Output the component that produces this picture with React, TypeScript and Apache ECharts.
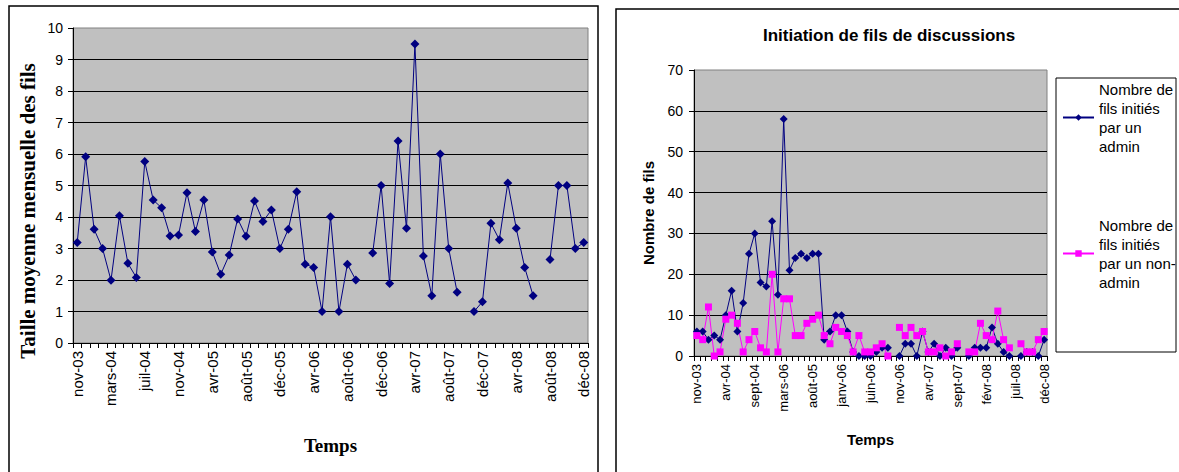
import { useEffect, useRef } from "react";
import * as echarts from "echarts";

// monthly categories, one month (janv-05) is absent from the source data
const MONTHS = [
  "nov-03", "déc-03",
  "janv-04", "févr-04", "mars-04", "avr-04", "mai-04", "juin-04", "juil-04", "août-04", "sept-04", "oct-04", "nov-04", "déc-04",
  "févr-05", "mars-05", "avr-05", "mai-05", "juin-05", "juil-05", "août-05", "sept-05", "oct-05", "nov-05", "déc-05",
  "janv-06", "févr-06", "mars-06", "avr-06", "mai-06", "juin-06", "juil-06", "août-06", "sept-06", "oct-06", "nov-06", "déc-06",
  "janv-07", "févr-07", "mars-07", "avr-07", "mai-07", "juin-07", "juil-07", "août-07", "sept-07", "oct-07", "nov-07", "déc-07",
  "janv-08", "févr-08", "mars-08", "avr-08", "mai-08", "juin-08", "juil-08", "août-08", "sept-08", "oct-08", "nov-08", "déc-08",
];
// the second chart labels mars-05 as "mars-06", kept as printed
const RIGHT_MONTHS = MONTHS.map((m, i) => (i === 15 ? "mars-06" : m));

const AVG_SIZE = [
  3.19, 5.91, 3.61, 3.0, 1.99, 4.04, 2.53, 2.08, 5.76, 4.54,
  4.29, 3.4, 3.43, 4.77, 3.54, 4.54, 2.89, 2.18, 2.79, 3.94,
  3.39, 4.51, 3.86, 4.22, 3.0, 3.61, 4.8, 2.5, 2.4, 1.0,
  4.01, 1.0, 2.5, 2.0, null, 2.86, 5.0, 1.89, 6.41, 3.64,
  9.49, 2.76, 1.5, 6.0, 3.0, 1.61, null, 1.0, 1.31, 3.8,
  3.28, 5.08, 3.64, 2.4, 1.5, null, 2.65, 5.0, 5.0, 3.0, 3.19,
];

const ADMIN_THREADS = [
  6, 6, 4, 5, 4, 10, 16, 6, 13, 25,
  30, 18, 17, 33, 15, 58, 21, 24, 25, 24,
  25, 25, 4, 6, 10, 10, 6, 1, 0, 0,
  0, 1, 2, 2, null, 0, 3, 3, 0, 6,
  1, 3, 0, 2, 0, 2, null, 0, 2, 2,
  2, 7, 3, 1, 0, null, 0, 1, 1, 0, 4,
];

const NON_ADMIN_THREADS = [
  5, 4, 12, 0, 1, 9, 10, 8, 1, 4,
  6, 2, 1, 20, 1, 14, 14, 5, 5, 8,
  9, 10, 5, 3, 7, 6, 5, 1, 5, 1,
  1, 2, 3, 0, null, 7, 5, 7, 5, 6,
  1, 1, 2, 0, 1, 3, null, 1, 1, 8,
  5, 4, 11, 4, 2, null, 3, 1, 1, 4, 6,
];

const ADMIN_NAME = "Nombre de fils initiés par un admin";
const NON_ADMIN_NAME = "Nombre de fils initiés par un non-admin";
const LEGEND_TEXT: Record<string, string> = {
  [ADMIN_NAME]: "Nombre de\nfils initiés\npar un\nadmin",
  [NON_ADMIN_NAME]: "Nombre de\nfils initiés\npar un non-\nadmin",
};

const SANS = "'Liberation Sans', Arial, sans-serif";
const SERIF = "'Liberation Serif', 'Times New Roman', serif";
const NAVY = "#000080";
const MAGENTA = "#FF00FF";

function categoryAxis(gridIndex: number, data: string[], every: number, fontSize: number) {
  return {
    gridIndex,
    type: "category" as const,
    data,
    boundaryGap: true,
    axisLine: { lineStyle: { color: "#000", width: 1 } },
    axisTick: { show: true, interval: 0, length: 5, lineStyle: { color: "#000" } },
    axisLabel: {
      interval: every - 1, rotate: 90, margin: 8,
      fontSize, color: "#000", fontFamily: SANS,
    },
    splitLine: { show: false },
  };
}

function valueAxis(gridIndex: number, max: number, interval: number, margin: number) {
  return {
    gridIndex,
    type: "value" as const,
    min: 0, max, interval,
    axisLine: { show: true, lineStyle: { color: "#000", width: 1 } },
    axisTick: { show: true, length: 5, lineStyle: { color: "#000" } },
    axisLabel: { margin, fontSize: 14, color: "#000", fontFamily: SANS },
    splitLine: { show: true, showMinLine: false, showMaxLine: false, lineStyle: { color: "#000", width: 1 } },
  };
}

function legendFor(name: string, top: number) {
  return {
    data: [name],
    orient: "vertical" as const,
    left: 1062,
    top,
    padding: 0,
    itemWidth: 31,
    itemHeight: 8,
    selectedMode: false,
    formatter: (n: string) => LEGEND_TEXT[n] ?? n,
    textStyle: {
      fontFamily: SANS, fontSize: 15, lineHeight: 19, color: "#000",
      padding: [57, 0, 0, 0],
    },
  };
}

export default function App() {
  const ref = useRef<HTMLDivElement>(null);

  useEffect(() => {
    if (!ref.current) return;
    const chart = echarts.init(ref.current, null, { renderer: "svg" });

    chart.setOption({
      animation: false,
      backgroundColor: "#fff",
      textStyle: { fontFamily: SANS },
      title: {
        text: "Initiation de fils de discussions",
        left: 763, top: 27, padding: 0,
        textStyle: { fontFamily: SANS, fontWeight: "bold", fontSize: 17, color: "#000" },
      },
      legend: [legendFor(ADMIN_NAME, 51), legendFor(NON_ADMIN_NAME, 187)],
      graphic: [
        { type: "rect", silent: true, z: -10, shape: { x: 9, y: 6, width: 589, height: 480 },
          style: { fill: "none", stroke: "#000", lineWidth: 1.5 } },
        { type: "rect", silent: true, z: -10, shape: { x: 616, y: 9, width: 570, height: 480 },
          style: { fill: "none", stroke: "#000", lineWidth: 1.5 } },
        { type: "rect", silent: true, shape: { x: 1056, y: 78, width: 120, height: 274 },
          style: { fill: "#fff", stroke: "#000", lineWidth: 1 } },
      ],
      grid: [
        { left: 73, top: 28, width: 515, height: 315, show: true,
          backgroundColor: "#C0C0C0", borderColor: "#808080", borderWidth: 1 },
        { left: 694, top: 70, width: 353, height: 286, show: true,
          backgroundColor: "#C0C0C0", borderColor: "#808080", borderWidth: 1 },
      ],
      xAxis: [
        {
          ...categoryAxis(0, MONTHS, 4, 15),
          name: "Temps", nameLocation: "middle", nameGap: 93,
          nameTextStyle: { fontFamily: SERIF, fontWeight: "bold", fontSize: 19, color: "#000" },
        },
        {
          ...categoryAxis(1, RIGHT_MONTHS, 5, 13),
          name: "Temps", nameLocation: "middle", nameGap: 76,
          nameTextStyle: { fontFamily: SANS, fontWeight: "bold", fontSize: 15, color: "#000" },
        },
      ],
      yAxis: [
        {
          ...valueAxis(0, 10, 1, 10),
          name: "Taille moyenne mensuelle des fils", nameLocation: "middle", nameRotate: 90, nameGap: 35,
          nameTextStyle: {
            fontFamily: SERIF, fontWeight: "bold", fontSize: 21, color: "#000",
            padding: [0, 51, 0, 0],
          },
        },
        {
          ...valueAxis(1, 70, 10, 11),
          name: "Nombre de fils", nameLocation: "middle", nameRotate: 90, nameGap: 38,
          nameTextStyle: { fontFamily: SANS, fontWeight: "bold", fontSize: 15, color: "#000" },
        },
      ],
      series: [
        {
          type: "line", xAxisIndex: 0, yAxisIndex: 0, data: AVG_SIZE,
          symbol: "diamond", symbolSize: 9, showAllSymbol: true, connectNulls: false,
          lineStyle: { color: NAVY, width: 1 }, itemStyle: { color: NAVY },
        },
        {
          name: ADMIN_NAME, type: "line", xAxisIndex: 1, yAxisIndex: 1, data: ADMIN_THREADS,
          symbol: "diamond", symbolSize: 8, showAllSymbol: true, connectNulls: false,
          lineStyle: { color: NAVY, width: 1 }, itemStyle: { color: NAVY },
        },
        {
          name: NON_ADMIN_NAME, type: "line", xAxisIndex: 1, yAxisIndex: 1, data: NON_ADMIN_THREADS,
          symbol: "rect", symbolSize: 7, showAllSymbol: true, connectNulls: false,
          lineStyle: { color: MAGENTA, width: 1 }, itemStyle: { color: MAGENTA },
        },
      ],
    });

    return () => chart.dispose();
  }, []);

  return (
    <div
      ref={ref}
      style={{ position: "absolute", left: 0, top: 0, width: 1179, height: 472, background: "#fff" }}
    />
  );
}
